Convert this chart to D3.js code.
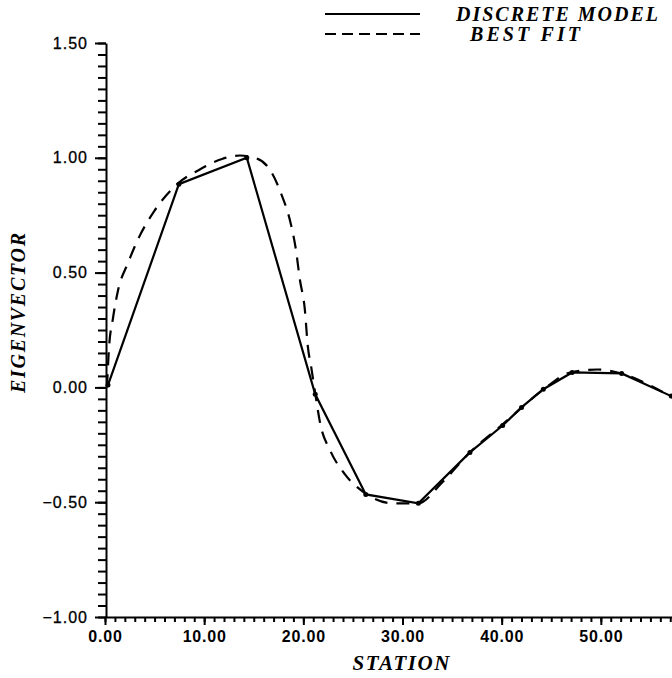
<!DOCTYPE html>
<html>
<head>
<meta charset="utf-8">
<script src="https://cdn.jsdelivr.net/npm/d3@7"></script>
<style>
  body { margin: 0; background: #fff; }
  svg { display: block; }
</style>
</head>
<body>
<div id="chart"></div>
<script>
// discrete model, station positions and eigenvector values
const stations = [0.3, 7.45, 14.3, 21.2, 26.3, 31.6, 36.8, 40.1, 42.0, 44.2, 47.1, 52.1, 57.1];
const discreteModel = [0.01, 0.885, 1.0, -0.03, -0.466, -0.505, -0.283, -0.166, -0.087, -0.008, 0.065, 0.061, -0.038];

// best fit curve
const fitStations = [0.2, 0.4, 0.8, 1.3, 2.3, 3.5, 5.0, 7.4, 9.6, 11.8, 13.6, 15.1, 16.6, 17.8, 18.75, 19.25, 19.65, 20.15, 20.45, 20.8, 21.2, 21.7, 22.7, 24.2, 26.1, 29.0, 31.55, 34.0, 36.8, 40.1, 44.2, 46.9, 49.7, 52.1, 54.9, 57.3];
const fitValues = [0.0, 0.17, 0.30, 0.42, 0.54, 0.66, 0.77, 0.89, 0.95, 0.995, 1.01, 1.0, 0.95, 0.84, 0.71, 0.60, 0.47, 0.34, 0.18, 0.087, -0.026, -0.157, -0.274, -0.379, -0.457, -0.505, -0.505, -0.414, -0.283, -0.161, -0.01, 0.065, 0.078, 0.06, 0.01, -0.046];

const yTickValues = [-1, -0.5, 0, 0.5, 1, 1.5];
const yTickLabels = ['\u22121.00', '\u22120.50', '0.00', '0.50', '1.00', '1.50'];
const xTickValues = [0, 10, 20, 30, 40, 50];
const xTickLabels = ['0.00', '10.00', '20.00', '30.00', '40.00', '50.00'];

const legendNames = ['DISCRETE MODEL', 'BEST FIT'];

const width = 672;
const height = 678;

const svg = d3.select('#chart')
              .append('svg')
              .attr('width', width)
              .attr('height', height);

const x = d3.scaleLinear().domain([0, 60]).range([105, 700]);
const y = d3.scaleLinear().domain([-1, 1.5]).range([617, 43]);

const tickFont = '"Liberation Sans", Arial, sans-serif';
const titleFont = '"Liberation Serif", "Times New Roman", serif';

// y axis: minor ticks every 0.05, labelled every 0.5
svg.append('g')
   .attr('transform', 'translate(106,0)')
   .call(d3.axisLeft(y).tickValues(d3.range(-1, 1.5001, 0.05)).tickSize(8).tickSizeOuter(0).tickFormat(''))
   .call(g => g.select('.domain').remove());

const yAxis = svg.append('g')
   .attr('transform', 'translate(106,0)')
   .call(d3.axisLeft(y).tickValues(yTickValues).tickSize(11).tickSizeOuter(0).tickPadding(7)
           .tickFormat((d, i) => yTickLabels[i]));

yAxis.selectAll('text')
     .attr('font-family', tickFont)
     .attr('font-size', 16)
     .attr('letter-spacing', 1)
     .attr('stroke', '#000')
     .attr('stroke-width', 0.3)
     .attr('fill', '#000');

// x axis: minor ticks every 1, labelled every 10
svg.append('g')
   .attr('transform', 'translate(0,617)')
   .call(d3.axisBottom(x).tickValues(d3.range(0, 58, 1)).tickSize(5).tickSizeOuter(0).tickFormat(''))
   .call(g => g.select('.domain').remove());

const xAxis = svg.append('g')
   .attr('transform', 'translate(0,617)')
   .call(d3.axisBottom(x).tickValues(xTickValues).tickSize(8).tickSizeOuter(0).tickPadding(6)
           .tickFormat((d, i) => xTickLabels[i]));

xAxis.selectAll('text')
     .attr('font-family', tickFont)
     .attr('font-size', 16)
     .attr('font-weight', 'bold')
     .attr('letter-spacing', 0.8)
     .attr('fill', '#000');

svg.selectAll('.domain, .tick line')
   .attr('stroke', '#000')
   .attr('stroke-width', 2);

// axis titles
svg.append('text')
   .attr('x', 401)
   .attr('y', 670)
   .attr('text-anchor', 'middle')
   .attr('font-family', titleFont)
   .attr('font-style', 'italic')
   .attr('font-weight', 'bold')
   .attr('font-size', 21)
   .attr('textLength', 97)
   .attr('lengthAdjust', 'spacing')
   .text('STATION');

svg.append('text')
   .attr('transform', 'translate(25,313) rotate(-90)')
   .attr('text-anchor', 'middle')
   .attr('font-family', titleFont)
   .attr('font-style', 'italic')
   .attr('font-weight', 'bold')
   .attr('font-size', 20)
   .attr('textLength', 160)
   .attr('lengthAdjust', 'spacing')
   .text('EIGENVECTOR');

// best fit (dashed)
const fitData = fitStations.map((s, i) => [s, fitValues[i]]);
svg.append('path')
   .datum(fitData)
   .attr('fill', 'none')
   .attr('stroke', '#000')
   .attr('stroke-width', 2.2)
   .attr('stroke-dasharray', '13,9')
   .attr('d', d3.line().x(d => x(d[0])).y(d => y(d[1])).curve(d3.curveMonotoneX));

// discrete model (solid)
const modelData = stations.map((s, i) => [s, discreteModel[i]]);
svg.append('path')
   .datum(modelData)
   .attr('fill', 'none')
   .attr('stroke', '#000')
   .attr('stroke-width', 2.2)
   .attr('d', d3.line().x(d => x(d[0])).y(d => y(d[1])));

svg.selectAll('circle.pt')
   .data(modelData)
   .enter()
   .append('circle')
   .attr('class', 'pt')
   .attr('cx', d => x(d[0]))
   .attr('cy', d => y(d[1]))
   .attr('r', 2.5)
   .attr('fill', '#000');

// legend
const legend = svg.append('g');
const legendRows = [
    { name: legendNames[0], y: 14, dash: null, tx: 456, ty: 21, len: 202 },
    { name: legendNames[1], y: 34, dash: '11,6', tx: 470, ty: 41, len: 110 }
];

legend.selectAll('line')
      .data(legendRows)
      .enter()
      .append('line')
      .attr('x1', 325)
      .attr('x2', 420)
      .attr('y1', d => d.y)
      .attr('y2', d => d.y)
      .attr('stroke', '#000')
      .attr('stroke-width', 2)
      .attr('stroke-dasharray', d => d.dash);

legend.selectAll('text')
      .data(legendRows)
      .enter()
      .append('text')
      .attr('x', d => d.tx)
      .attr('y', d => d.ty)
      .attr('font-family', titleFont)
      .attr('font-style', 'italic')
      .attr('font-weight', 'bold')
      .attr('font-size', 20)
      .attr('textLength', d => d.len)
      .attr('lengthAdjust', 'spacing')
      .text(d => d.name);
</script>
</body>
</html>
